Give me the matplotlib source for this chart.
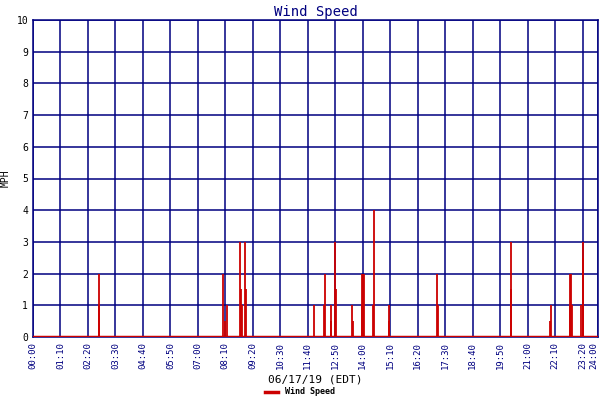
import matplotlib
matplotlib.use("Agg")
import matplotlib.pyplot as plt

# minutes after midnight and wind speed (mph)
minutes = [168, 169, 485, 489, 493, 528, 531, 533, 541, 543, 716, 742, 745,
           758, 760, 770, 772, 814, 816, 838, 839, 841, 843, 867, 870, 906, 908,
           1030, 1032, 1217, 1218, 1318, 1321, 1367, 1369, 1371, 1374,
           1397, 1400, 1402]
speed = [2, 1, 2, 0.5, 1, 3, 1.5, 1, 3, 1.5, 1, 1, 2,
         1, 0.5, 3, 1.5, 1, 0.5, 1, 2, 2, 2, 1, 4, 1, 0.5,
         2, 1, 3, 1.5, 0.5, 1, 1, 2, 2, 1,
         1, 3, 2.5]

tick_minutes = list(range(0, 1440, 70)) + [1440]
tick_labels = ["%02d:%02d" % (m // 60, m % 60) for m in tick_minutes]

navy = "#000080"
red = "#cc0000"
plt.rcParams["font.family"] = "DejaVu Sans Mono"

fig = plt.figure(figsize=(6, 4), dpi=100)
ax = fig.add_axes([0.055, 0.1575, 0.942, 0.7925])

ax.vlines(minutes, 0, speed, color=red, linewidth=1.3, zorder=3)
ax.plot([0, 1440], [0, 0], color=red, linewidth=2.5, zorder=3, label="Wind Speed")

ax.set_xlim(0, 1440)
ax.set_ylim(0, 10)
ax.set_xticks(tick_minutes)
ax.set_xticklabels(tick_labels, rotation=90, fontsize=6.5, color=navy)
ax.get_xticklabels()[-1].set_horizontalalignment("right")
ax.set_yticks(range(11))
ax.tick_params(axis="y", labelsize=7, colors="black", length=0)
ax.tick_params(axis="x", length=0)
ax.grid(True, color=navy, linewidth=1.1)
for s in ax.spines.values():
    s.set_color(navy)
    s.set_linewidth(1.1)

ax.set_title("Wind Speed", color=navy, fontsize=10, pad=3)
ax.set_ylabel("MPH", fontsize=7)
ax.set_xlabel("06/17/19 (EDT)", fontsize=8, labelpad=4)
fig.legend(loc="lower center", bbox_to_anchor=(0.5, -0.01), frameon=False,
           handlelength=1.5, prop={"size": 6, "weight": "bold"})

fig.savefig("out.png", dpi=100)
